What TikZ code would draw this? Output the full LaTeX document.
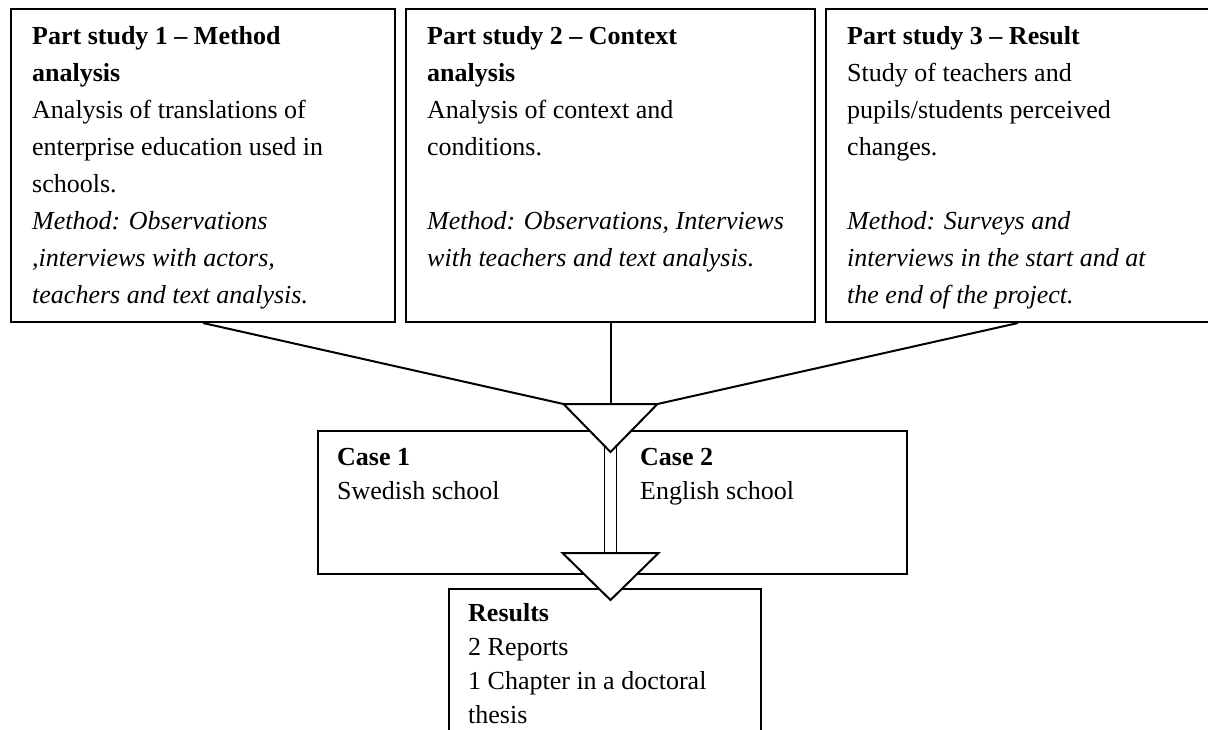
\documentclass[tikz,border=0pt]{standalone}
\usepackage{fontspec}
\setmainfont{Liberation Serif}
\begin{document}
\begin{tikzpicture}[x=1pt,y=-1pt,
  boxa/.style={draw, line width=2pt, rectangle, inner sep=0pt, anchor=north west},
  conn/.style={line width=2pt},
  tri/.style={draw, fill=white, line width=2pt, line join=miter},
  txt/.style={anchor=base west, inner sep=0pt, align=left, font=\fontsize{26}{37}\selectfont},
  txtb/.style={anchor=base west, inner sep=0pt, align=left, font=\fontsize{26}{34}\selectfont}]
\useasboundingbox (0,0) rectangle (1208,729);
\clip (0,0) rectangle (1208,729);

% top boxes
\node[boxa, minimum width=384pt, minimum height=313pt] (p1) at (10,8) {};
\node[boxa, minimum width=409pt, minimum height=313pt] (p2) at (405,8) {};
\node[boxa, minimum width=384pt, minimum height=313pt] (p3) at (825,8) {};

% texts (base anchor = baseline of the last line)
\node[txt] (t1) at (32,303) {\textbf{Part study 1 – Method}\\\textbf{analysis}\\Analysis of translations of\\enterprise education used in\\schools.\\\textit{Method: Observations}\\\textit{,interviews with actors,}\\\textit{teachers and text analysis.}};
\node[txt] (t2) at (427,266) {\textbf{Part study 2 – Context}\\\textbf{analysis}\\Analysis of context and\\conditions.\\[37pt]\textit{Method: Observations, Interviews}\\\textit{with teachers and text analysis.}};
\node[txt] (t3) at (847,303) {\textbf{Part study 3 – Result}\\Study of teachers and\\pupils/students perceived\\changes.\\[37pt]\textit{Method: Surveys and}\\\textit{interviews in the start and at}\\\textit{the end of the project.}};

% triangle coordinates
\coordinate (t1a) at (p2.south |- 0,452);
\coordinate (t1m) at (p2.south |- 0,404);
\coordinate (t1l) at ([xshift=-47pt]t1m);
\coordinate (t1r) at ([xshift=47pt]t1m);
\coordinate (t2a) at (p2.south |- 0,600);
\coordinate (t2m) at (p2.south |- 0,553);
\coordinate (t2l) at ([xshift=-48pt]t2m);
\coordinate (t2r) at ([xshift=48pt]t2m);

% connectors
\draw[conn] (p1.south) -- (t1l);
\draw[conn] (p2.south) -- (t1m);
\draw[conn] (p3.south) -- (t1r);

% case box
\node[boxa, minimum width=589pt, minimum height=143pt] (cb) at (317,430) {};
\node[txtb] (c1) at (337,499) {\textbf{Case 1}\\Swedish school};
\node[txtb] (c2) at (640,499) {\textbf{Case 2}\\English school};

% results box
\node[boxa, minimum width=312pt, minimum height=160pt] (rb) at (448,588) {};
\node[txtb] (r) at (468,723) {\textbf{Results}\\2 Reports\\1 Chapter in a doctoral\\thesis};

% double line between the two triangles
\draw[line width=1.6pt, fill=white] ([xshift=-6pt,yshift=12pt]t1a) rectangle ([xshift=6pt,yshift=-7pt]t2m);

% triangles
\draw[tri] (t1l) -- (t1r) -- (t1a) -- cycle;
\draw[tri] (t2l) -- (t2r) -- (t2a) -- cycle;
\end{tikzpicture}
\end{document}
